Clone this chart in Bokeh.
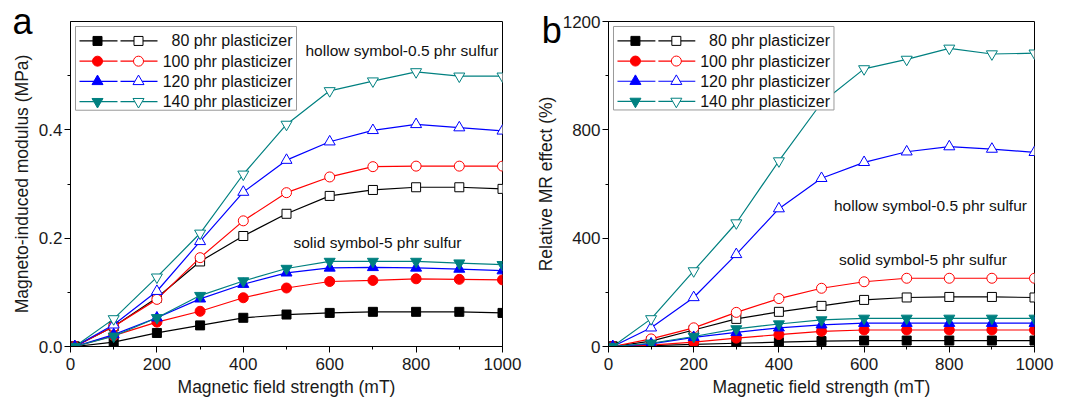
from bokeh.plotting import figure
from bokeh.layouts import row
from bokeh.models import Range1d, SingleIntervalTicker, NumeralTickFormatter, Label
from bokeh.core.properties import value
from bokeh.embed import file_html
from bokeh.resources import INLINE

FONT = "Liberation Sans"

# ---------------- data ----------------
field_mT = [10, 100, 200, 300, 400, 500, 600, 700, 800, 900, 1000]

labels = ["80 phr plasticizer", "100 phr plasticizer", "120 phr plasticizer", "140 phr plasticizer"]
colors = ["#000000", "#FF0000", "#0000FF", "#008080"]
markers = ["square", "circle", "triangle", "inverted_triangle"]
msizes = [9, 10, 11, 11]

# panel a: magneto-induced modulus (MPa)
a_hollow_80 = [0, 0.037, 0.090, 0.157, 0.204, 0.245, 0.278, 0.289, 0.294, 0.294, 0.291]
a_hollow_100 = [0, 0.037, 0.087, 0.164, 0.232, 0.284, 0.313, 0.332, 0.333, 0.333, 0.333]
a_hollow_120 = [0, 0.040, 0.102, 0.194, 0.285, 0.344, 0.378, 0.399, 0.410, 0.404, 0.398]
a_hollow_140 = [0, 0.051, 0.128, 0.209, 0.318, 0.410, 0.472, 0.490, 0.507, 0.499, 0.499]
a_solid_80 = [0, 0.008, 0.025, 0.039, 0.053, 0.059, 0.062, 0.064, 0.064, 0.064, 0.062]
a_solid_100 = [0, 0.020, 0.045, 0.065, 0.090, 0.108, 0.120, 0.122, 0.125, 0.124, 0.123]
a_solid_120 = [0, 0.022, 0.053, 0.088, 0.115, 0.136, 0.145, 0.146, 0.145, 0.143, 0.140]
a_solid_140 = [0, 0.019, 0.053, 0.094, 0.121, 0.144, 0.157, 0.157, 0.157, 0.154, 0.151]

# panel b: relative MR effect (%)
b_hollow_80 = [0, 20, 61, 102, 128, 150, 172, 181, 183, 183, 181]
b_hollow_100 = [0, 28, 69, 126, 177, 215, 239, 252, 252, 252, 252]
b_hollow_120 = [0, 69, 181, 340, 509, 621, 680, 719, 738, 729, 717]
b_hollow_140 = [0, 102, 279, 456, 685, 900, 1025, 1060, 1101, 1080, 1083]
b_solid_80 = [0, 3, 8, 12, 16, 20, 22, 22, 22, 22, 22]
b_solid_100 = [0, 5, 16, 31, 44, 56, 61, 61, 61, 61, 61]
b_solid_120 = [0, 10, 34, 52, 69, 80, 86, 86, 86, 86, 86]
b_solid_140 = [0, 12, 37, 65, 83, 98, 104, 104, 104, 104, 104]

x_label = "Magnetic field strength (mT)"
a_ylabel = "Magneto-induced modulus (MPa)"
b_ylabel = "Relative MR effect (%)"
hollow_note = "hollow symbol-0.5 phr sulfur"
solid_note = "solid symbol-5 phr sulfur"


def make_panel(width, height, bl, br, bt, bb, xr, yr, yint, yfmt, ylabel,
               hollows, solids, letter, letter_pos, hollow_pos, solid_pos):
    fw = width - bl - br
    fh = height - bt - bb
    p = figure(width=width, height=height, output_backend="svg", toolbar_location=None,
               x_range=Range1d(*xr), y_range=Range1d(*yr),
               min_border_left=bl, min_border_right=br, min_border_top=bt, min_border_bottom=bb)
    p.xgrid.visible = False
    p.ygrid.visible = False
    p.outline_line_color = "black"
    p.outline_line_width = 1
    p.outline_line_alpha = 1
    p.background_fill_color = "white"
    p.border_fill_color = "white"

    p.xaxis.ticker = SingleIntervalTicker(interval=200, num_minor_ticks=2)
    p.yaxis.ticker = SingleIntervalTicker(interval=yint, num_minor_ticks=2)
    p.yaxis.formatter = NumeralTickFormatter(format=yfmt)
    for ax in (p.xaxis[0], p.yaxis[0]):
        ax.axis_line_color = "black"
        ax.major_tick_line_color = "black"
        ax.minor_tick_line_color = "black"
        ax.major_tick_out = 6
        ax.major_tick_in = 0
        ax.minor_tick_out = 3
        ax.minor_tick_in = 0
        ax.major_label_text_font = FONT
        ax.major_label_text_font_size = "17px"
        ax.major_label_text_color = "#1a1a1a"
        ax.axis_label_text_font = FONT
        ax.axis_label_text_font_size = "17.5px"
        ax.axis_label_text_font_style = "normal"
        ax.axis_label_text_color = "#1a1a1a"
    p.xaxis.major_label_standoff = 5
    p.xaxis.axis_label_standoff = 4
    p.yaxis.major_label_standoff = 2
    p.yaxis.axis_label_standoff = 4
    p.xaxis.axis_label = x_label
    p.yaxis.axis_label = ylabel

    for ys, c, m, s in zip(hollows, colors, markers, msizes):
        p.line(field_mT, ys, line_color=c, line_width=1.2)
        p.scatter(field_mT, ys, marker=m, size=s, line_color=c, fill_color="white", line_width=1)
    for ys, c, m, s in zip(solids, colors, markers, msizes):
        p.line(field_mT, ys, line_color=c, line_width=1.2)
        p.scatter(field_mT, ys, marker=m, size=s, line_color=c, fill_color=c, line_width=1)

    X = lambda dx: xr[0] + dx / fw * (xr[1] - xr[0])
    Y = lambda dy: yr[1] - dy / fh * (yr[1] - yr[0])

    p.quad(left=[X(5)], right=[X(226)], top=[Y(5)], bottom=[Y(89)],
           fill_color="white", line_color="#999999", line_width=1)
    for i, (lab, c, m, s) in enumerate(zip(labels, colors, markers, msizes)):
        yy = Y(19.5 + 20.3 * i)
        p.line([X(9), X(47)], [yy, yy], line_color=c, line_width=1.2)
        p.scatter([X(27)], [yy], marker=m, size=s, line_color=c, fill_color=c)
        p.line([X(50), X(87)], [yy, yy], line_color=c, line_width=1.2)
        p.scatter([X(68)], [yy], marker=m, size=s, line_color=c, fill_color="white")
        p.text([X(222)], [yy], text=[lab], text_align="right", text_baseline="middle",
               text_font=value(FONT), text_font_size="16px", text_color="#111111")

    p.add_layout(Label(x=X(hollow_pos[0]), y=Y(hollow_pos[1]), text=hollow_note,
                       text_font=FONT, text_font_size="15.5px", text_baseline="middle",
                       text_color="#111111"))
    p.add_layout(Label(x=X(solid_pos[0]), y=Y(solid_pos[1]), text=solid_note,
                       text_font=FONT, text_font_size="15.5px", text_baseline="middle",
                       text_color="#111111"))
    # panel letter: lives in the (empty) right side panel so it is not clipped to the frame
    p.add_layout(Label(x=X(letter_pos[0]), y=Y(letter_pos[1]), text=letter,
                       text_font=FONT, text_font_size="36px", text_baseline="alphabetic",
                       text_color="black"), "right")
    return p


pa = make_panel(532, 403, 70, 30, 21, 56, (0, 1000), (0, 0.6), 0.2, "0.0", a_ylabel,
                [a_hollow_80, a_hollow_100, a_hollow_120, a_hollow_140],
                [a_solid_80, a_solid_100, a_solid_120, a_solid_140],
                "a", (-58, 0), (235, 29), (223, 222))
pb = make_panel(533, 403, 75, 31, 19, 57, (0, 1000), (0, 1200), 400, "0", b_ylabel,
                [b_hollow_80, b_hollow_100, b_hollow_120, b_hollow_140],
                [b_solid_80, b_solid_100, b_solid_120, b_solid_140],
                "b", (-67, 9), (226, 185), (231, 239))

layout = row(pa, pb)
open("out.html", "w").write(file_html(layout, INLINE))
